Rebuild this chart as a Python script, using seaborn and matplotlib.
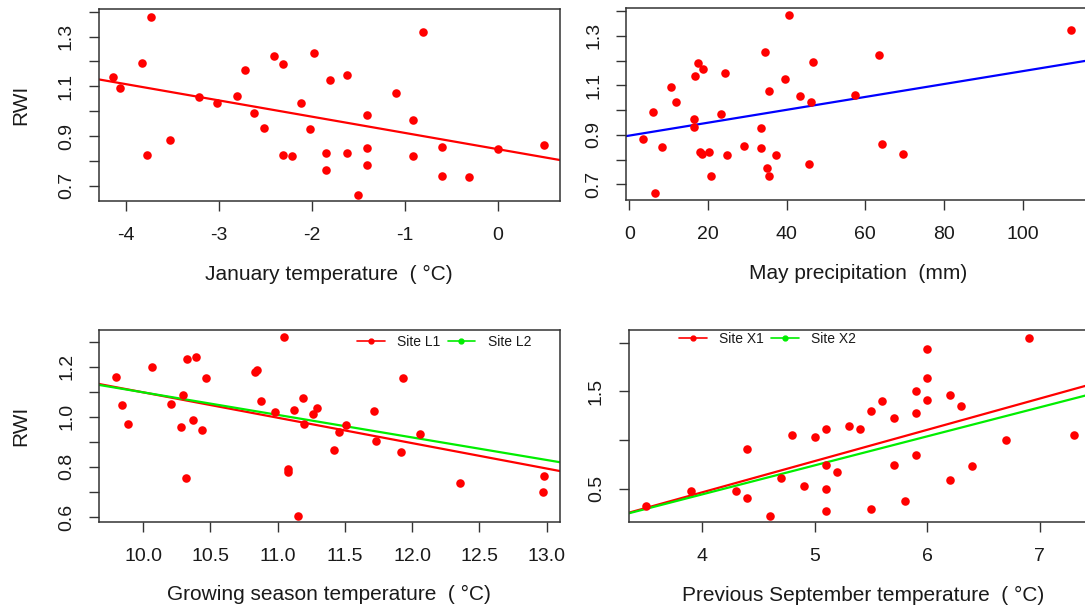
import numpy as np
import pandas as pd
import matplotlib
matplotlib.use("Agg")
import matplotlib.pyplot as plt
from matplotlib.lines import Line2D
import seaborn as sns

# ---------------- data ----------------
jan_temp = [-4.14, -4.07, -3.83, -3.73, -3.77, -3.53, -3.22, -3.02, -2.81, -2.72, -2.62, -2.52,
            -2.41, -2.31, -2.31, -2.21, -2.12, -2.02, -1.98, -1.85, -1.85, -1.81, -1.62, -1.62,
            -1.50, -1.41, -1.41, -1.41, -1.10, -0.91, -0.91, -0.81, -0.60, -0.60, -0.31, 0.00, 0.49]
jan_rwi = [1.138, 1.092, 1.193, 1.380, 0.823, 0.882, 1.056, 1.033, 1.060, 1.165, 0.991, 0.933,
           1.220, 1.188, 0.823, 0.819, 1.033, 0.928, 1.234, 0.833, 0.764, 1.125, 1.147, 0.833,
           0.664, 0.983, 0.851, 0.783, 1.075, 0.965, 0.819, 1.320, 0.855, 0.738, 0.734, 0.846, 0.865]

may_prec = [3.4, 6.0, 6.5, 8.4, 10.7, 11.8, 16.4, 16.4, 16.8, 17.5, 18.1, 18.6, 18.8, 20.3, 20.8,
            23.3, 24.4, 24.8, 29.1, 33.6, 33.6, 34.5, 35.1, 35.4, 35.4, 37.2, 39.7, 40.6, 43.4,
            45.8, 46.1, 46.7, 57.5, 63.4, 64.3, 69.6, 112.3]
may_rwi = [0.883, 0.993, 0.664, 0.851, 1.093, 1.034, 0.965, 0.931, 1.138, 1.191, 0.832, 0.822,
           1.167, 0.832, 0.732, 0.984, 1.148, 0.818, 0.855, 0.929, 0.845, 1.235, 0.765, 0.735,
           1.075, 0.818, 1.125, 1.382, 1.056, 0.782, 1.034, 1.194, 1.062, 1.222, 0.864, 0.824, 1.323]

gs_temp = [9.80, 9.84, 9.89, 10.07, 10.21, 10.28, 10.30, 10.32, 10.33, 10.37, 10.39, 10.44, 10.47,
           10.83, 10.85, 10.88, 10.98, 11.05, 11.08, 11.08, 11.12, 11.15, 11.19, 11.20, 11.26,
           11.29, 11.42, 11.46, 11.51, 11.72, 11.73, 11.92, 11.93, 12.06, 12.36, 12.97, 12.98]
gs_rwi = [1.158, 1.049, 0.973, 1.200, 1.053, 0.959, 1.088, 0.755, 1.232, 0.986, 1.241, 0.946, 1.154,
          1.178, 1.189, 1.065, 1.021, 1.319, 0.791, 0.780, 1.028, 0.605, 1.077, 0.973, 1.013,
          1.036, 0.869, 0.941, 0.969, 1.024, 0.905, 0.859, 1.154, 0.932, 0.736, 0.700, 0.764]

sep_temp = [3.5, 3.9, 4.3, 4.4, 4.4, 4.6, 4.7, 4.8, 4.9, 5.0, 5.1, 5.1, 5.1, 5.1, 5.2, 5.3, 5.4,
            5.5, 5.5, 5.6, 5.7, 5.7, 5.8, 5.9, 5.9, 5.9, 6.0, 6.0, 6.0, 6.2, 6.2, 6.3, 6.4, 6.7,
            6.9, 7.3]
sep_rwi = [0.322, 0.479, 0.479, 0.911, 0.408, 0.219, 0.607, 1.049, 0.525, 1.035, 1.117, 0.744,
           0.500, 0.268, 0.675, 1.141, 1.117, 1.295, 0.291, 1.398, 1.224, 0.744, 0.374, 1.504,
           1.281, 0.849, 1.933, 1.641, 1.408, 1.466, 0.593, 1.350, 0.733, 1.000, 2.049, 1.049]

# regression fits (intercept, slope)
jan_fit = (0.847, -0.0654)
may_fit = (0.897, 0.0026)
gs_fit_L1 = (2.113, -0.1015)
gs_fit_L2 = (1.999, -0.0901)
sep_fit_X1 = (-0.821, 0.321)
sep_fit_X2 = (-0.750, 0.298)

# tick labels
jan_xticks = [-4, -3, -2, -1, 0]
may_xticks = [0, 20, 40, 60, 80, 100]
gs_xticks = [10.0, 10.5, 11.0, 11.5, 12.0, 12.5, 13.0]
gs_xticklabels = ["10.0", "10.5", "11.0", "11.5", "12.0", "12.5", "13.0"]
sep_xticks = [4, 5, 6, 7]
top_yticks = [0.7, 0.8, 0.9, 1.0, 1.1, 1.2, 1.3, 1.4]
top_yticklabels = ["0.7", "", "0.9", "", "1.1", "", "1.3", ""]
gs_yticks = [0.6, 0.7, 0.8, 0.9, 1.0, 1.1, 1.2, 1.3]
gs_yticklabels = ["0.6", "", "0.8", "", "1.0", "", "1.2", ""]
sep_yticks = [0.5, 1.0, 1.5, 2.0]
sep_yticklabels = ["0.5", "", "1.5", ""]

legend_L = ["Site L1", "Site L2"]
legend_X = ["Site X1", "Site X2"]

# ---------------- style ----------------
sns.set_style("white")
plt.rcParams["font.family"] = ["Liberation Sans", "DejaVu Sans"]
plt.rcParams["axes.edgecolor"] = "#333333"
plt.rcParams["axes.linewidth"] = 1.1
plt.rcParams["text.color"] = "#1a1a1a"
plt.rcParams["axes.labelcolor"] = "#1a1a1a"
plt.rcParams["xtick.color"] = "#333333"
plt.rcParams["ytick.color"] = "#333333"
plt.rcParams["xtick.labelcolor"] = "#1a1a1a"
plt.rcParams["ytick.labelcolor"] = "#1a1a1a"

W, H = 1085, 611
fig = plt.figure(figsize=(W / 100, H / 100), dpi=100)


def px_axes(x0, x1, y0, y1):
    return fig.add_axes([x0 / W, 1 - y1 / H, (x1 - x0) / W, (y1 - y0) / H])


ax1 = px_axes(98.5, 560, 9, 201)
ax2 = px_axes(626, 1091, 8, 200)
ax3 = px_axes(98.7, 560, 330, 521.7)
ax4 = px_axes(628.6, 1098.3, 330, 522)

RED = "#FF0000"
BLUE = "#0000FF"
GREEN = "#00EE00"
TICK_FS = 14
LAB_FS = 15
PT = 38


def style(ax, xticks, xlabels, yticks, ylabels, xlim, ylim, xlabel, ylabel=None):
    ax.set_xlim(*xlim)
    ax.set_ylim(*ylim)
    ax.set_xticks(xticks)
    ax.set_xticklabels(xlabels, fontsize=TICK_FS)
    ax.set_yticks(yticks)
    ax.set_yticklabels(ylabels, fontsize=TICK_FS, rotation=90, va="center")
    ax.tick_params(axis="both", direction="out", length=7, width=1.0,
                   bottom=True, left=True, top=False, right=False)
    ax.tick_params(axis="x", pad=12)
    ax.tick_params(axis="y", pad=10)
    ax.set_xlabel(xlabel, fontsize=LAB_FS, labelpad=14.5)
    if ylabel:
        ax.set_ylabel(ylabel, fontsize=LAB_FS, labelpad=20)
    else:
        ax.set_ylabel("")
    for s in ax.spines.values():
        s.set_visible(True)


# panel 1
sns.scatterplot(x=jan_temp, y=jan_rwi, color=RED, s=PT, linewidth=0, ax=ax1, zorder=3)
ax1.axline((0, jan_fit[0]), slope=jan_fit[1], color=RED, lw=1.6, zorder=2)
style(ax1, jan_xticks, [str(v) for v in jan_xticks], top_yticks, top_yticklabels,
      (-4.296, 0.667), (0.6386, 1.411), "January temperature  ( °C)", "RWI")

# panel 2
sns.scatterplot(x=may_prec, y=may_rwi, color=RED, s=PT, linewidth=0, ax=ax2, zorder=3)
ax2.axline((0, may_fit[0]), slope=may_fit[1], color=BLUE, lw=1.6, zorder=2)
style(ax2, may_xticks, [str(v) for v in may_xticks], top_yticks, top_yticklabels,
      (-0.84, 117.4), (0.637, 1.412), "May precipitation  (mm)")

# panel 3
sns.scatterplot(x=gs_temp, y=gs_rwi, color=RED, s=PT, linewidth=0, ax=ax3, zorder=3)
ax3.axline((0, gs_fit_L1[0]), slope=gs_fit_L1[1], color=RED, lw=1.6, zorder=2)
ax3.axline((0, gs_fit_L2[0]), slope=gs_fit_L2[1], color=GREEN, lw=1.6, zorder=2)
style(ax3, gs_xticks, gs_xticklabels, gs_yticks, gs_yticklabels,
      (9.67, 13.10), (0.581, 1.347), "Growing season temperature  ( °C)", "RWI")

# panel 4
sns.scatterplot(x=sep_temp, y=sep_rwi, color=RED, s=PT, linewidth=0, ax=ax4, zorder=3)
ax4.axline((0, sep_fit_X1[0]), slope=sep_fit_X1[1], color=RED, lw=1.6, zorder=2)
ax4.axline((0, sep_fit_X2[0]), slope=sep_fit_X2[1], color=GREEN, lw=1.6, zorder=2)
style(ax4, sep_xticks, [str(v) for v in sep_xticks], sep_yticks, sep_yticklabels,
      (3.345, 7.52), (0.158, 2.13), "Previous September temperature  ( °C)")


def site_legend(ax, labels, anchor):
    handles = [Line2D([], [], color=RED, lw=1.2, marker="o", markersize=3.5),
               Line2D([], [], color=GREEN, lw=1.2, marker="o", markersize=3.5)]
    ax.legend(handles, labels, loc="upper left", bbox_to_anchor=anchor, ncol=2,
              frameon=False, fontsize=10, handlelength=2.0, handletextpad=0.9,
              columnspacing=0.5, borderpad=0, borderaxespad=0)


site_legend(ax3, legend_L, (0.560, 0.975))
site_legend(ax4, legend_X, (0.107, 0.99))

fig.savefig("out.png", dpi=100)
